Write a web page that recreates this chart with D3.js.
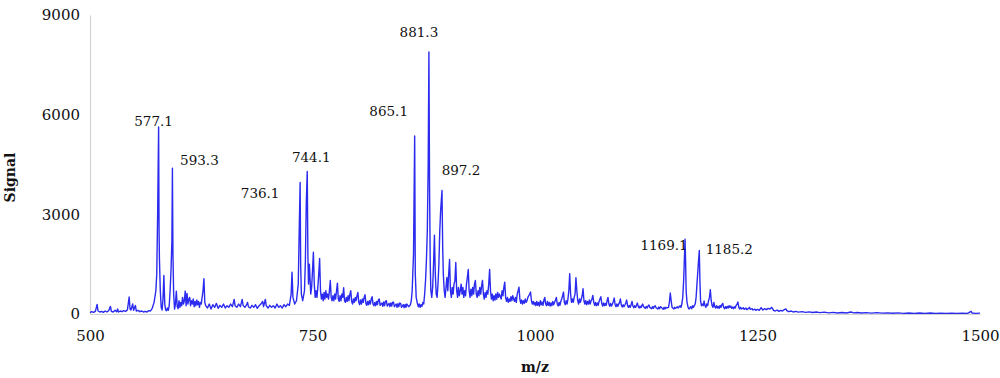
<!DOCTYPE html>
<head>
    <meta charset="utf-8">
    <title>Mass spectrum</title>
    <style>
        body { margin: 0; background: #fff; }
        text { font-family: "DejaVu Serif", serif; fill: #111; }
    </style>
</head>
<body>
    <script src="https://d3js.org/d3.v7.min.js"></script>
    <script>

        // tick values
        var xTicks = [500, 750, 1000, 1250, 1500];
        var yTicks = [0, 3000, 6000, 9000];

        // labelled peaks: m/z of apex, signal of apex, label
        var peakMz = [577.1, 592.6, 736.1, 744.1, 864.8, 880.8, 895.5, 1168.6, 1184.6];
        var peakSignal = [5630, 4390, 3960, 4290, 5360, 7890, 3720, 2250, 1910];
        var peakText = ['577.1', '593.3', '736.1', '744.1', '865.1', '881.3', '897.2', '1169.1', '1185.2'];

        // spectrum: [m/z, signal]
        var spectrum = [
            [500,40],[502,70],[504,50],[506,80],[508,290],[509,90],[511,60],[513,80],[515,50],[517,90],
            [519,60],[521,100],[523,230],[524,80],[526,60],[528,110],[530,70],[531,150],[532,60],[534,90],
            [536,70],[538,100],[540,80],[542,120],[544,510],[545,150],[546,120],[548,300],[549,110],[551,260],
            [552,90],[554,110],[556,70],[558,90],[560,60],[562,80],[564,60],[566,100],[568,90],[570,180],
            [572,350],[574,700],[575,1200],[576,3000],[577.1,5630],[577.6,2500],[578,1670],[579,700],[580,200],
            [581,120],[582,450],[583,1160],[584,300],[585,120],[586,100],[587,180],[588,110],[589,250],
            [590,700],[591,1300],[592,2170],[592.6,4390],[593.2,1800],[594,600],[595,150],[596,300],[597,690],
            [598,220],[599,160],[600,400],[601,200],[602,350],[603,250],[604,500],[605,300],[606,400],
            [607,690],[608,250],[609,620],[610,300],[611,450],[612,500],[613,250],[614,400],[615,300],
            [616,450],[617,220],[618,380],[619,250],[620,420],[621,280],[622,380],[623,200],[624,350],
            [625,300],[626,500],[627,700],[628,1060],[629,350],[630,250],[632,180],[634,300],[636,150],
            [638,280],[640,200],[642,320],[644,170],[646,260],[648,200],[650,300],[652,180],[654,250],
            [656,200],[658,300],[660,220],[662,440],[663,250],[665,200],[667,300],[669,220],[671,440],
            [672,260],[674,200],[676,280],[677,350],[678,220],[680,180],[682,260],[684,200],[686,280],
            [688,170],[690,250],[692,300],[694,380],[695,220],[697,440],[698,250],[700,180],[702,260],
            [704,200],[706,250],[708,180],[710,300],[712,200],[714,250],[716,180],[718,280],[720,220],
            [722,300],[724,260],[726,600],[727,1260],[728,500],[730,300],[732,400],[734,900],[735,2400],
            [736.1,3960],[736.7,1500],[737.5,600],[739,400],[741,700],[742,1600],[743,3330],[744.1,4290],
            [744.8,1800],[745.5,900],[746.5,1500],[747,1200],[748,600],[749,800],[750,1300],[751,1860],
            [752,900],[753,500],[754,700],[755,500],[756,800],[757,1200],[758,1670],[759,700],[760,450],
            [761,600],[762,400],[763,650],[764,450],[765,700],[766,500],[767,600],[768,450],[769,700],
            [770,1010],[771,500],[772,400],[773,550],[774,400],[775,600],[776,450],[777,700],[778,930],
            [779,450],[780,380],[781,550],[782,400],[783,600],[784,500],[785,790],[786,400],[787,350],
            [788,500],[789,380],[790,550],[791,400],[792,600],[793,700],[794,380],[795,300],[796,450],
            [797,350],[798,500],[799,400],[800,550],[801,650],[802,350],[803,280],[804,420],[805,300],
            [806,450],[807,350],[808,500],[809,580],[810,320],[811,260],[812,380],[813,280],[814,400],
            [815,300],[816,450],[817,520],[818,300],[819,250],[820,350],[821,250],[822,380],[823,280],
            [824,420],[825,450],[826,260],[828,330],[829,230],[830,360],[831,250],[832,380],[833,400],
            [834,240],[836,320],[837,220],[838,330],[839,240],[840,350],[841,360],[842,220],[844,300],
            [845,200],[846,310],[847,220],[848,330],[849,320],[850,200],[852,280],[853,190],[854,290],
            [855,200],[856,300],[858,220],[860,280],[861,400],[862,700],[863.5,1800],[864.8,5360],
            [865.5,1200],[866.5,500],[868,300],[869,220],[870,300],[871,200],[872,280],[873,230],[874,350],
            [875,300],[876,600],[877,1000],[878,1610],[879,2500],[880,4500],[880.8,7890],[881.5,3870],
            [882.3,1500],[883,700],[884,500],[885,800],[886,1500],[887,2370],[888,1200],[889,600],[890,500],
            [891,900],[892,1500],[893,2500],[894,3120],[895.5,3720],[896.3,2000],[897,1200],[898,700],
            [899,500],[900,800],[901,1100],[902,700],[903,1200],[904,1640],[905,700],[906,500],[907,800],
            [908,600],[909,900],[910,1000],[911,1550],[912,700],[913,500],[914,800],[915,550],[916,700],
            [917,900],[918,600],[919,800],[920,500],[921,700],[922,550],[923,900],[924,1100],[925,1340],
            [926,700],[927,500],[928,750],[929,550],[930,800],[931,600],[932,900],[933,1010],[934,600],
            [935,500],[936,700],[937,550],[938,800],[939,600],[940,850],[941,1010],[942,600],[943,450],
            [944,650],[945,500],[946,700],[947,600],[948,900],[949,1340],[950,700],[951,450],[952,600],
            [953,400],[954,550],[955,420],[956,600],[957,450],[958,650],[959,500],[960,600],[962,450],
            [963,700],[964,550],[965,800],[966,960],[967,500],[968,380],[969,500],[970,350],[971,450],
            [972,380],[973,520],[974,400],[975,550],[976,450],[977,380],[978,500],[979,350],[980,600],
            [981,700],[982,810],[983,450],[984,320],[985,420],[986,300],[987,400],[988,320],[989,450],
            [990,350],[991,400],[992,500],[993,550],[994,600],[995,660],[996,400],[997,300],[998,380],
            [999,280],[1000,350],[1001,250],[1002,380],[1003,260],[1004,350],[1005,240],[1006,400],
            [1007,280],[1008,360],[1009,260],[1010,420],[1011,500],[1012,300],[1013,250],[1014,380],
            [1015,260],[1016,350],[1017,240],[1018,330],[1019,250],[1020,380],[1021,280],[1022,350],
            [1023,420],[1024,500],[1025,300],[1026,240],[1027,350],[1028,260],[1029,380],[1030,450],
            [1031,550],[1032,660],[1033,350],[1034,280],[1035,400],[1036,300],[1037,450],[1038,700],
            [1039,1210],[1040,600],[1041,350],[1042,450],[1043,350],[1044,500],[1045,600],[1046,1090],
            [1047,700],[1048,400],[1049,300],[1050,450],[1051,350],[1052,450],[1053,550],[1054,760],
            [1055,400],[1056,300],[1057,400],[1058,280],[1059,380],[1060,300],[1061,420],[1062,300],
            [1063,400],[1064,450],[1065,560],[1066,350],[1067,260],[1068,350],[1069,250],[1070,330],
            [1071,260],[1072,380],[1073,450],[1074,520],[1075,320],[1076,240],[1077,330],[1078,250],
            [1079,320],[1080,260],[1081,400],[1082,500],[1083,300],[1084,230],[1085,320],[1086,240],
            [1087,300],[1088,380],[1089,480],[1090,280],[1091,220],[1092,300],[1093,230],[1094,290],
            [1095,350],[1096,450],[1097,270],[1098,210],[1099,280],[1100,220],[1101,270],[1102,330],
            [1103,420],[1104,250],[1105,200],[1106,260],[1107,200],[1108,280],[1109,380],[1110,240],
            [1111,190],[1112,250],[1113,200],[1114,260],[1115,330],[1116,230],[1117,180],[1118,240],
            [1119,190],[1120,250],[1121,300],[1122,220],[1124,170],[1125,230],[1126,180],[1127,240],
            [1128,270],[1129,200],[1131,160],[1132,220],[1133,170],[1134,230],[1135,250],[1136,190],
            [1138,150],[1139,210],[1140,160],[1141,220],[1142,200],[1144,140],[1145,200],[1146,150],
            [1147,200],[1148,180],[1150,200],[1151,350],[1152,630],[1153,400],[1154,200],[1156,150],
            [1157,200],[1158,170],[1160,220],[1161,180],[1163,250],[1164,200],[1165,300],[1166,500],
            [1167,1000],[1168.6,2250],[1169.2,1600],[1169.8,700],[1170.8,350],[1172,200],[1173,150],
            [1175,220],[1176,160],[1177,250],[1178,200],[1180,300],[1181,500],[1182,900],[1183.5,1500],
            [1184.6,1910],[1185.3,1000],[1186,400],[1187,250],[1188,300],[1189,250],[1190,390],[1191,250],
            [1192,200],[1193,300],[1194,250],[1195,400],[1196,500],[1197,730],[1198,400],[1199,250],
            [1200,200],[1201,350],[1202,220],[1203,180],[1204,250],[1205,180],[1206,230],[1207,170],
            [1208,260],[1209,200],[1210,280],[1211,320],[1212,200],[1213,160],[1214,220],[1215,170],
            [1216,230],[1217,180],[1218,250],[1219,200],[1220,240],[1221,170],[1222,210],[1223,160],
            [1224,220],[1225,180],[1226,260],[1227,300],[1228,360],[1229,200],[1230,150],[1231,200],
            [1232,150],[1234,190],[1235,140],[1237,180],[1238,130],[1240,170],[1241,200],[1242,140],
            [1244,160],[1245,120],[1247,150],[1248,110],[1250,140],[1252,110],[1254,190],[1256,120],
            [1258,160],[1260,130],[1262,170],[1264,150],[1266,200],[1267,160],[1268,110],[1270,90],
            [1272,120],[1274,80],[1276,110],[1278,90],[1280,130],[1282,150],[1283,100],[1285,70],
            [1288,90],[1290,60],[1293,80],[1296,55],[1300,70],[1304,50],[1308,65],[1312,45],[1316,60],
            [1320,40],[1325,55],[1330,35],[1335,50],[1340,30],[1345,45],[1350,30],[1355,60],[1358,35],
            [1362,45],[1367,30],[1372,40],[1378,25],[1384,40],[1390,25],[1396,35],[1402,22],[1408,35],
            [1414,20],[1420,30],[1426,20],[1432,30],[1438,20],[1444,28],[1450,18],[1456,26],[1462,18],
            [1468,25],[1474,18],[1480,24],[1486,20],[1490,80],[1491,30],[1495,20],[1500,25]
        ];

        // label offsets from the apex, in pixels (layout only)
        var labelOffsets = [[-5, -1], [27, -3], [-40, 16], [4, -9], [-26, -20], [-10, -15], [19, -15], [-21, 11], [30, 3]];

        var margin = { top: 15, right: 20, bottom: 64, left: 90 },
            width = 1000 - margin.left - margin.right,
            height = 378 - margin.top - margin.bottom;

        var x = d3.scaleLinear()
            .domain([500, 1500])
            .range([0, width]);

        var y = d3.scaleLinear()
            .domain([0, 9000])
            .range([height, 0]);

        var svg = d3.select('body').append('svg')
            .attr('width', 1000)
            .attr('height', 378)
            .append('g')
            .attr('transform', 'translate(' + margin.left + ',' + margin.top + ')');

        var xAxis = d3.axisBottom(x)
            .tickValues(xTicks)
            .tickSize(0)
            .tickPadding(16)
            .tickFormat(d3.format('d'));

        var yAxis = d3.axisLeft(y)
            .tickValues(yTicks)
            .tickSize(0)
            .tickPadding(10)
            .tickFormat(d3.format('d'));

        svg.append('g')
            .attr('class', 'x axis')
            .attr('transform', 'translate(0,' + height + ')')
            .call(xAxis);

        svg.append('g')
            .attr('class', 'y axis')
            .call(yAxis);

        svg.selectAll('.axis path').attr('stroke', '#d2d2d2').attr('stroke-width', 1.2);
        svg.selectAll('.axis text')
            .attr('font-family', 'DejaVu Serif')
            .attr('font-size', 15)
            .attr('fill', '#111');

        var line = d3.line()
            .x(function (d) { return x(d[0]); })
            .y(function (d) { return y(d[1]); });

        svg.append('path')
            .datum(spectrum)
            .attr('fill', 'none')
            .attr('stroke', '#2b2bf0')
            .attr('stroke-width', 1.4)
            .attr('stroke-linejoin', 'round')
            .attr('d', line);

        svg.selectAll('.peak-label')
            .data(peakText)
            .enter().append('text')
            .attr('class', 'peak-label')
            .attr('x', function (d, i) { return x(peakMz[i]) + labelOffsets[i][0]; })
            .attr('y', function (d, i) { return y(peakSignal[i]) + labelOffsets[i][1]; })
            .attr('text-anchor', 'middle')
            .attr('font-size', 13.5)
            .text(function (d) { return d; });

        svg.append('text')
            .attr('x', width / 2)
            .attr('y', height + 58)
            .attr('text-anchor', 'middle')
            .attr('font-size', 14)
            .attr('font-weight', 'bold')
            .text('m/z');

        svg.append('text')
            .attr('transform', 'translate(' + (15 - margin.left) + ',' + (height / 2 + 13) + ') rotate(-90)')
            .attr('text-anchor', 'middle')
            .attr('font-size', 14)
            .attr('font-weight', 'bold')
            .text('Signal');

    </script>
</body>
